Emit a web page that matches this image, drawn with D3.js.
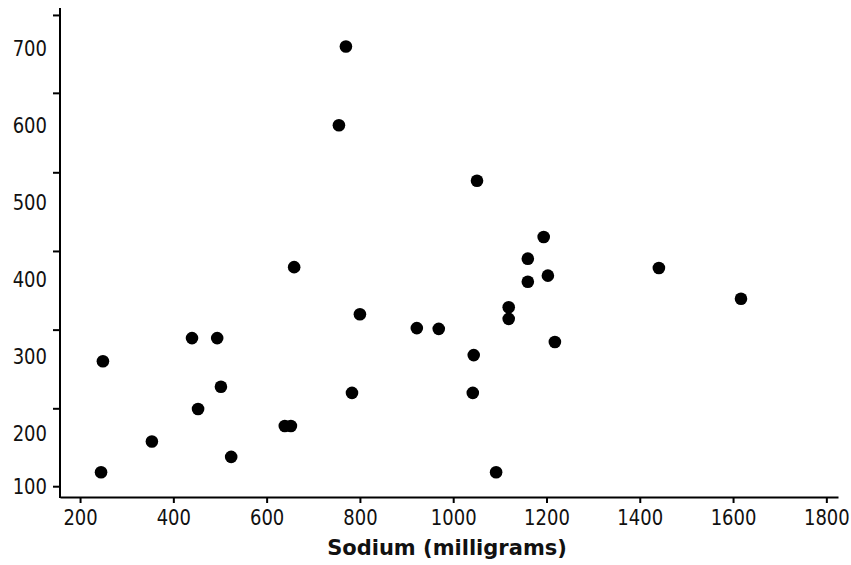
<!DOCTYPE html>
<html>

<head>
    <meta charset="utf-8">
    <title>Sodium scatter</title>
    <style type="text/css">
    body {
        margin: 0;
        background: #fff;
    }
    .axis path,
    .axis line {
        stroke: #000;
        stroke-width: 2px;
    }
    .axis text {
        font-family: "DejaVu Sans", Verdana, sans-serif;
        font-size: 18px;
        fill: #111;
    }
    .title {
        font-family: "DejaVu Sans", Verdana, sans-serif;
        font-size: 21px;
        font-weight: bold;
        fill: #111;
    }
    </style>
</head>

<body>
    <script src="https://cdnjs.cloudflare.com/ajax/libs/d3/7.8.5/d3.min.js"></script>
    <script>
    // sodium (mg) against the y value
    var sodium = [245, 249, 354, 440, 453, 494, 502, 524, 639, 652,
        659, 755, 770, 783, 800, 922, 969, 1042, 1044, 1051,
        1092, 1119, 1119, 1160, 1160, 1194, 1203, 1218, 1441, 1617];
    var yvals = [150, 294, 190, 324, 232, 324, 261, 170, 210, 210,
        416, 600, 702, 253, 355, 337, 336, 253, 302, 528,
        150, 349, 364, 397, 427, 455, 405, 319, 415, 375];

    var xTicks = [200, 400, 600, 800, 1000, 1200, 1400, 1600, 1800];
    var yLabels = [200, 300, 400, 500, 600, 700];
    var yTickMarks = [132, 233, 335, 437, 539, 642, 743];
    var yTickMarkLabels = ["100", "", "", "", "", "", ""];
    var xTitle = "Sodium (milligrams)";

    var width = 851,
        height = 565;

    var xscl = d3.scaleLinear()
        .domain([157, 1825])
        .range([60, 838]);

    var yscl = d3.scaleLinear()
        .domain([118, 752])
        .range([497, 8]);

    var svg = d3.select("body")
        .append("svg")
        .attr("width", width)
        .attr("height", height);

    // x axis
    var gx = svg.append("g")
        .attr("class", "axis")
        .attr("transform", "translate(0,497)")
        .call(d3.axisBottom(xscl).tickValues(xTicks).tickSize(6).tickSizeOuter(0)
            .tickFormat(d3.format("d")));
    gx.selectAll("text")
        .attr("y", 0)
        .attr("dy", "0.71em")
        .attr("transform", "translate(0,13) scale(1,1.2)");

    // y axis: tick marks (only the bottom one labelled)
    var gy = svg.append("g")
        .attr("class", "axis")
        .attr("transform", "translate(60,0)")
        .call(d3.axisLeft(yscl).tickValues(yTickMarks).tickSize(7).tickSizeOuter(0)
            .tickFormat(function(d, i) { return yTickMarkLabels[i]; }));
    gy.select(".domain")
        .attr("d", "M0," + yscl.range()[1] + "V" + (yscl.range()[0] + 1));
    gy.selectAll("text")
        .attr("x", -13)
        .attr("transform", "scale(1,1.2)");

    // y axis: value labels
    var gyl = svg.append("g")
        .attr("class", "axis")
        .attr("transform", "translate(60,0)")
        .call(d3.axisLeft(yscl).tickValues(yLabels).tickSize(0).tickPadding(13)
            .tickFormat(d3.format("d")));
    gyl.select(".domain").remove();
    gyl.selectAll("text")
        .attr("transform", "scale(1,1.2)");

    svg.append("text")
        .attr("class", "title")
        .attr("x", 447)
        .attr("y", 555)
        .attr("text-anchor", "middle")
        .text(xTitle);

    // points
    svg.append("g")
        .selectAll("circle")
        .data(d3.range(sodium.length))
        .enter()
        .append("circle")
        .attr("cx", function(i) { return xscl(sodium[i]); })
        .attr("cy", function(i) { return yscl(yvals[i]); })
        .attr("r", 6.3)
        .style("fill", "#000");
    </script>
</body>

</html>
